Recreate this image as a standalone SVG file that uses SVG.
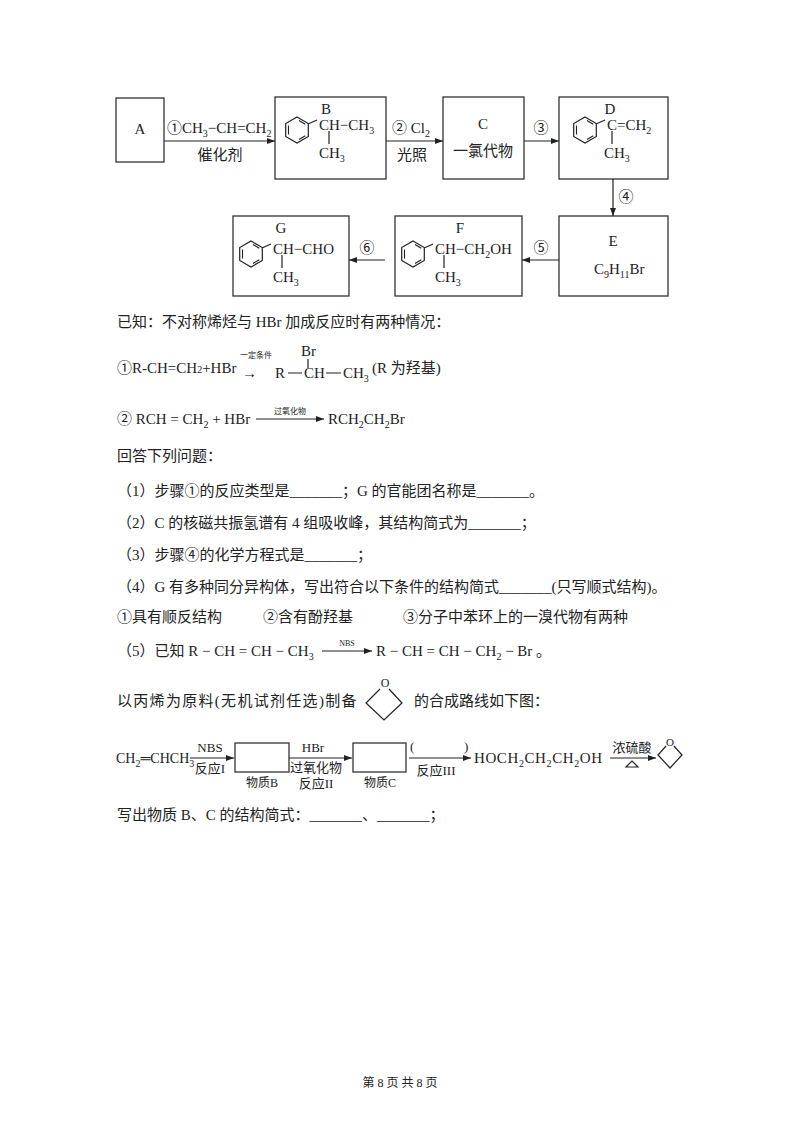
<svg xmlns="http://www.w3.org/2000/svg" width="800" height="1132" viewBox="0 0 800 1132">
<defs>
<marker id="ah" markerWidth="8" markerHeight="6" refX="8" refY="3" orient="auto" markerUnits="userSpaceOnUse"><path d="M0,0 L8,3 L0,6 Z" fill="#222"/></marker>
<g id="bz"><polygon points="0,-13 11.3,-6.5 11.3,6.5 0,13 -11.3,6.5 -11.3,-6.5" fill="none" stroke="#222" stroke-width="1.2"/><path d="M2,-9.5 L8.3,-5.8 M8.3,5.8 L2,9.5 M-8.5,4.5 L-8.5,-4.5" stroke="#222" stroke-width="1.1"/></g>
</defs>
<style>
text{font-family:"Liberation Serif","Noto Sans CJK SC",serif;font-size:15px;fill:#222}
.s{font-size:10px}
.t{font-size:8px}
.r{font-size:14px}
.b{fill:none;stroke:#333;stroke-width:1.3}
.l{stroke:#222;stroke-width:1.2;fill:none}
.c{text-anchor:middle}
</style>
<rect width="800" height="1132" fill="#fff"/>
<g id="A"><rect class="b" x="116" y="98" width="48" height="64"/><text x="140" y="134" class="c">A</text></g>
<g id="B"><rect class="b" x="275" y="97" width="111" height="82"/><text x="326" y="114" class="c">B</text><use href="#bz" x="297" y="130"/><path class="l" d="M308,124 L317,120 M329,131 V144"/><text x="319" y="130">CH−CH<tspan class="s" dy="4">3</tspan></text><text x="319" y="158">CH<tspan class="s" dy="4">3</tspan></text></g>
<g id="C"><rect class="b" x="443" y="97" width="81" height="82"/><text x="483" y="129" class="c">C</text><text x="483" y="156" class="c">一氯代物</text></g>
<g id="D"><rect class="b" x="559" y="97" width="109" height="82"/><text x="610" y="114" class="c">D</text><use href="#bz" x="585" y="130"/><path class="l" d="M596,124 L605,120 M612,131 V144"/><text x="607" y="130">C=CH<tspan class="s" dy="4">2</tspan></text><text x="604" y="158">CH<tspan class="s" dy="4">3</tspan></text></g>
<g id="E"><rect class="b" x="559" y="216" width="109" height="80"/><text x="613" y="246" class="c">E</text><text x="594" y="274">C<tspan class="s" dy="4">9</tspan><tspan dy="-4">H</tspan><tspan class="s" dy="4">11</tspan><tspan dy="-4">Br</tspan></text></g>
<g id="F"><rect class="b" x="395" y="216" width="127" height="80"/><text x="460" y="233" class="c">F</text><use href="#bz" x="413" y="254"/><path class="l" d="M424,248 L433,244 M444,255 V268"/><text x="435" y="254">CH−CH<tspan class="s" dy="4">2</tspan><tspan dy="-4">OH</tspan></text><text x="435" y="282">CH<tspan class="s" dy="4">3</tspan></text></g>
<g id="G"><rect class="b" x="233" y="216" width="116" height="80"/><text x="281" y="233" class="c">G</text><use href="#bz" x="251" y="254"/><path class="l" d="M262,248 L271,244 M282,255 V268"/><text x="273" y="254">CH−CHO</text><text x="273" y="282">CH<tspan class="s" dy="4">3</tspan></text></g>
<g id="connectors">
<path class="l" d="M164,141 H275" marker-end="url(#ah)"/>
<path class="l" d="M386,141 H443" marker-end="url(#ah)"/>
<path class="l" d="M524,141 H559" marker-end="url(#ah)"/>
<path class="l" d="M613,179 V216" marker-end="url(#ah)"/>
<path class="l" d="M559,260 H522" marker-end="url(#ah)"/>
<path class="l" d="M385,260 H349" marker-end="url(#ah)"/>
</g>
<g id="labels">
<text x="167" y="133">①CH<tspan class="s" dy="4">3</tspan><tspan dy="-4">−CH=CH</tspan><tspan class="s" dy="4">2</tspan></text>
<text x="220" y="160" class="c">催化剂</text>
<text x="392" y="133">② Cl<tspan class="s" dy="4">2</tspan></text>
<text x="412" y="160" class="c">光照</text>
<text x="541" y="133" class="c">③</text>
<text x="626" y="202" class="c">④</text>
<text x="541" y="253" class="c">⑤</text>
<text x="367" y="253" class="c">⑥</text>
</g>
<text x="117" y="327">已知：不对称烯烃与 HBr 加成反应时有两种情况：</text>
<text x="117" y="373">①R-CH=CH<tspan class="s">2</tspan>+HBr</text>
<text x="240" y="358" class="t">一定条件</text>
<text x="242" y="378">→</text>
<text x="301" y="356">Br</text>
<path class="l" d="M308,359 V368 M288,373 H302 M326,373 H341"/>
<text x="275" y="378">R</text><text x="304" y="378">CH</text><text x="343" y="378">CH<tspan class="s" dy="4">3</tspan></text>
<text x="372" y="373">(R 为羟基)</text>
<text x="117" y="424">② RCH = CH<tspan class="s" dy="4">2</tspan><tspan dy="-4"> + HBr</tspan></text>
<path class="l" d="M256,419 H324" marker-end="url(#ah)"/>
<text x="290" y="414" class="t c">过氧化物</text>
<text x="328" y="424">RCH<tspan class="s" dy="4">2</tspan><tspan dy="-4">CH</tspan><tspan class="s" dy="4">2</tspan><tspan dy="-4">Br</tspan></text>
<text x="117" y="461">回答下列问题：</text>
<text x="117" y="496">（1）步骤①的反应类型是_______；G 的官能团名称是_______。</text>
<text x="117" y="528">（2）C 的核磁共振氢谱有 4 组吸收峰，其结构简式为_______；</text>
<text x="117" y="560">（3）步骤④的化学方程式是_______；</text>
<text x="117" y="592">（4）G 有多种同分异构体，写出符合以下条件的结构简式_______(只写顺式结构)。</text>
<text x="117" y="622">①具有顺反结构</text><text x="263" y="622">②含有酚羟基</text><text x="403" y="622">③分子中苯环上的一溴代物有两种</text>
<text x="117" y="656">（5）已知 R − CH = CH − CH<tspan class="s" dy="4">3</tspan></text>
<path class="l" d="M322,651 H372" marker-end="url(#ah)"/>
<text x="347" y="646" class="t c">NBS</text>
<text x="376" y="656">R − CH = CH − CH<tspan class="s" dy="4">2</tspan><tspan dy="-4"> − Br 。</tspan></text>
<text x="117" y="706" style="letter-spacing:1.3px">以丙烯为原料(无机试剂任选)制备</text>
<text x="385" y="687" class="c" style="font-size:12px">O</text>
<path class="l" d="M380,689 L366,703 L384,720 L402,703 L389,689"/>
<text x="414" y="706">的合成路线如下图：</text>
<g id="route">
<text x="116" y="763" class="r">CH<tspan class="s" dy="4">2</tspan><tspan dy="-4">═CHCH</tspan><tspan class="s" dy="4">3</tspan></text>
<path class="l" d="M190,758 H234" marker-end="url(#ah)"/>
<text x="210" y="752" class="c" style="font-size:13px">NBS</text>
<text x="210" y="773" class="c" style="font-size:13px">反应I</text>
<rect class="b" x="235" y="743" width="54" height="29"/>
<text x="262" y="787" class="c" style="font-size:12px">物质B</text>
<path class="l" d="M289,758 H352" marker-end="url(#ah)"/>
<text x="313" y="752" class="c" style="font-size:13px">HBr</text>
<text x="316" y="772" class="c" style="font-size:13px">过氧化物</text>
<text x="316" y="788" class="c" style="font-size:13px">反应II</text>
<rect class="b" x="353" y="743" width="53" height="29"/>
<text x="380" y="787" class="c" style="font-size:12px">物质C</text>
<path class="l" d="M409,758 H471" marker-end="url(#ah)"/>
<text x="410" y="751" style="font-size:13px">(</text><text x="464" y="751" style="font-size:13px">)</text>
<text x="436" y="775" class="c" style="font-size:13px">反应III</text>
<text x="474" y="763" style="font-size:15px;letter-spacing:0.6px">HOCH<tspan class="s" dy="4">2</tspan><tspan dy="-4">CH</tspan><tspan class="s" dy="4">2</tspan><tspan dy="-4">CH</tspan><tspan class="s" dy="4">2</tspan><tspan dy="-4">OH</tspan></text>
<path class="l" d="M610,758 H656" marker-end="url(#ah)"/>
<text x="632" y="752" class="c" style="font-size:13px">浓硫酸</text>
<path class="l" d="M626,767 L632,761 L638,767 Z"/>
<text x="670" y="746" class="c" style="font-size:11px">O</text>
<path class="l" d="M666,746 L658,755 L670,768 L682,755 L674,746"/>
</g>
<text x="117" y="820">写出物质 B、C 的结构简式：_______、_______；</text>
<text x="400" y="1087" class="c" style="font-size:12px">第 8 页 共 8 页</text>
</svg>
